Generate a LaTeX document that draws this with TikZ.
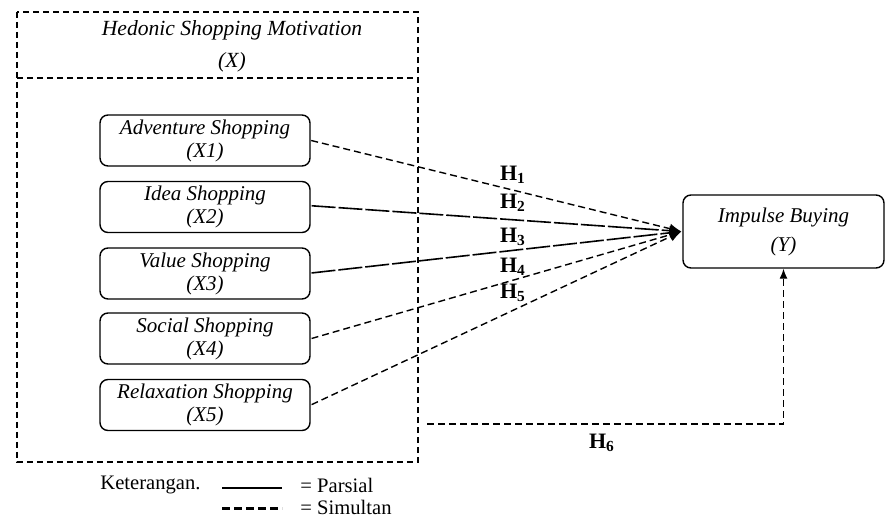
\documentclass[tikz,border=0pt]{standalone}
\usepackage{fontspec}
\setmainfont{Liberation Serif}
\usetikzlibrary{arrows.meta}

\begin{document}
\begin{tikzpicture}[scale=0.17573]
\tikzstyle{every node}+=[inner sep=0pt]
\tikzstyle{varbox}=[draw, rounded corners=4pt, line width=0.7pt, minimum width=105pt, minimum height=25.5pt, align=center, font=\fontsize{10.5}{11.5}\selectfont\itshape]
\tikzstyle{frame}=[line width=0.7pt, dash pattern=on 3pt off 2pt]
\tikzstyle{simul}=[line width=0.7pt, dash pattern=on 3.5pt off 2pt]
\tikzstyle{parsial}=[line width=0.8pt, dash pattern=on 12pt off 1.5pt]
\tikzstyle{hyp}=[font=\fontsize{11}{12}\selectfont\bfseries]
\tikzstyle{legend}=[anchor=west, font=\fontsize{10.3}{12}\selectfont]
\useasboundingbox (0,0) rectangle (88.6,-51.8);
% outer frame
\draw [frame] (1.7,-1.2) rectangle (41.8,-46.2);
\draw [frame] (1.7,-7.8) -- (41.8,-7.8);
\node [align=center, font=\fontsize{10.8}{16}\selectfont\itshape] (title) at (23.2,-4.6) {Hedonic Shopping Motivation\\(X)};
% variables
\node [varbox] (adv) at (20.5,-14.05) {Adventure Shopping\\(X1)};
\node [varbox] (idea) at (20.5,-20.7) {Idea Shopping\\(X2)};
\node [varbox] (val) at (20.5,-27.35) {Value Shopping\\(X3)};
\node [varbox] (soc) at (20.5,-33.85) {Social Shopping\\(X4)};
\node [varbox] (rel) at (20.5,-40.5) {Relaxation Shopping\\(X5)};
\node [varbox, minimum width=100.5pt, minimum height=36.5pt, font=\fontsize{10.5}{14.5}\selectfont\itshape] (imp) at (78.35,-23.15) {Impulse Buying\\(Y)};
\coordinate (tip) at ([xshift=-2.5pt]imp.west);
% hypotheses
\draw [simul, -{Latex[length=6pt,width=5pt]}] ([xshift=1.5pt]adv.east) -- (tip);
\draw [parsial, -{Latex[length=6pt,width=5pt]}] ([shift={(2.5pt,3.5pt)}]idea.east) -- (tip);
\draw [parsial, -{Latex[length=6pt,width=5pt]}] ([shift={(2.5pt,1.5pt)}]val.east) -- (tip);
\draw [simul, -{Latex[length=6pt,width=5pt]}] ([xshift=2.5pt]soc.east) -- (tip);
\draw [simul, -{Latex[length=6pt,width=5pt]}] ([shift={(2.5pt,1pt)}]rel.east) -- (tip);
\node [hyp] (h1) at (51.3,-17.5) {H\textsubscript{1}};
\node [hyp] (h2) at (51.3,-20.3) {H\textsubscript{2}};
\node [hyp] (h3) at (51.3,-23.7) {H\textsubscript{3}};
\node [hyp] (h4) at (51.3,-26.7) {H\textsubscript{4}};
\node [hyp] (h5) at (51.3,-29.3) {H\textsubscript{5}};
\coordinate (h6) at (42.7,-42.4);
\draw [simul, -{Latex[length=5pt,width=4pt]}] (h6) -| (imp.south);
\node [hyp] (h6lab) at (60.2,-44.3) {H\textsubscript{6}};
% legend
\node [legend] (ket) at (10,-48.5) {Keterangan.};
\coordinate (pa) at (22.2,-48.8);
\coordinate (pb) at (28.2,-48.8);
\draw [line width=0.7pt] (pa) -- (pb);
\node [legend] (par) at (30,-48.5) {= Parsial};
\coordinate (sa) at (22.2,-50.8);
\coordinate (sb) at (28.2,-50.8);
\draw [line width=1.5pt, dash pattern=on 4pt off 2pt] (sa) -- (sb);
\node [legend] (sim) at (30,-50.7) {= Simultan};
\end{tikzpicture}
\end{document}
